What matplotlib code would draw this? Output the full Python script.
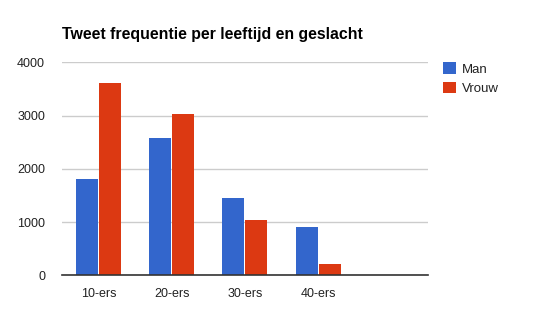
import matplotlib
matplotlib.use("Agg")
import matplotlib.pyplot as plt
import numpy as np

categories = ["10-ers", "20-ers", "30-ers", "40-ers", ""]
man = [1800, 2580, 1450, 910, 0]
vrouw = [3620, 3030, 1040, 210, 0]
yticks = [0, 1000, 2000, 3000, 4000]
title = "Tweet frequentie per leeftijd en geslacht"

plt.rcParams['font.family'] = ['Liberation Sans', 'DejaVu Sans']

W, H = 534, 336
fig = plt.figure(figsize=(W/100, H/100), dpi=100)
ax_left, ax_right = 61.7, 428
ax_top, ax_bot = 62.3, 275.3
ax = fig.add_axes([ax_left/W, 1-ax_bot/H, (ax_right-ax_left)/W, (ax_bot-ax_top)/H])

x = np.arange(len(categories))
bw = 0.3
gap = 0.007
n = 4
ax.bar(x[:n] - bw/2 - gap, man[:n], width=bw, color="#3366cc", label="Man", zorder=3)
ax.bar(x[:n] + bw/2 + gap, vrouw[:n], width=bw, color="#dc3912", label="Vrouw", zorder=3)

ax.set_xlim(-0.5, len(categories) - 0.5)
ax.set_ylim(0, 4000)
ax.set_yticks(yticks)
ax.set_yticklabels([str(v) for v in yticks])
ax.set_xticks(x[:n])
ax.set_xticklabels(categories[:n])
ax.tick_params(axis='both', length=0, labelsize=9, colors="#222222")
ax.tick_params(axis='y', pad=12)
ax.tick_params(axis='x', pad=9)
for s in ["top", "right", "left"]:
    ax.spines[s].set_visible(False)
ax.spines["bottom"].set_color("#333333")
ax.spines["bottom"].set_linewidth(1.2)
ax.spines["bottom"].set_zorder(4)
ax.grid(axis='y', color="#cccccc", linewidth=1, zorder=0)
ax.set_axisbelow(True)

fig.text(62.5/W, 1-35/H, title, fontsize=11.4, fontweight='bold', color="#000000",
         ha='left', va='center')

leg = ax.legend(loc='upper left', bbox_to_anchor=((438-ax_left)/(ax_right-ax_left), 1.024),
                frameon=False, fontsize=9.5, handlelength=0.95, handleheight=0.95,
                handletextpad=0.45, labelspacing=0.45, borderaxespad=0)
for t in leg.get_texts():
    t.set_color("#222222")

fig.savefig("out.png", dpi=100)
